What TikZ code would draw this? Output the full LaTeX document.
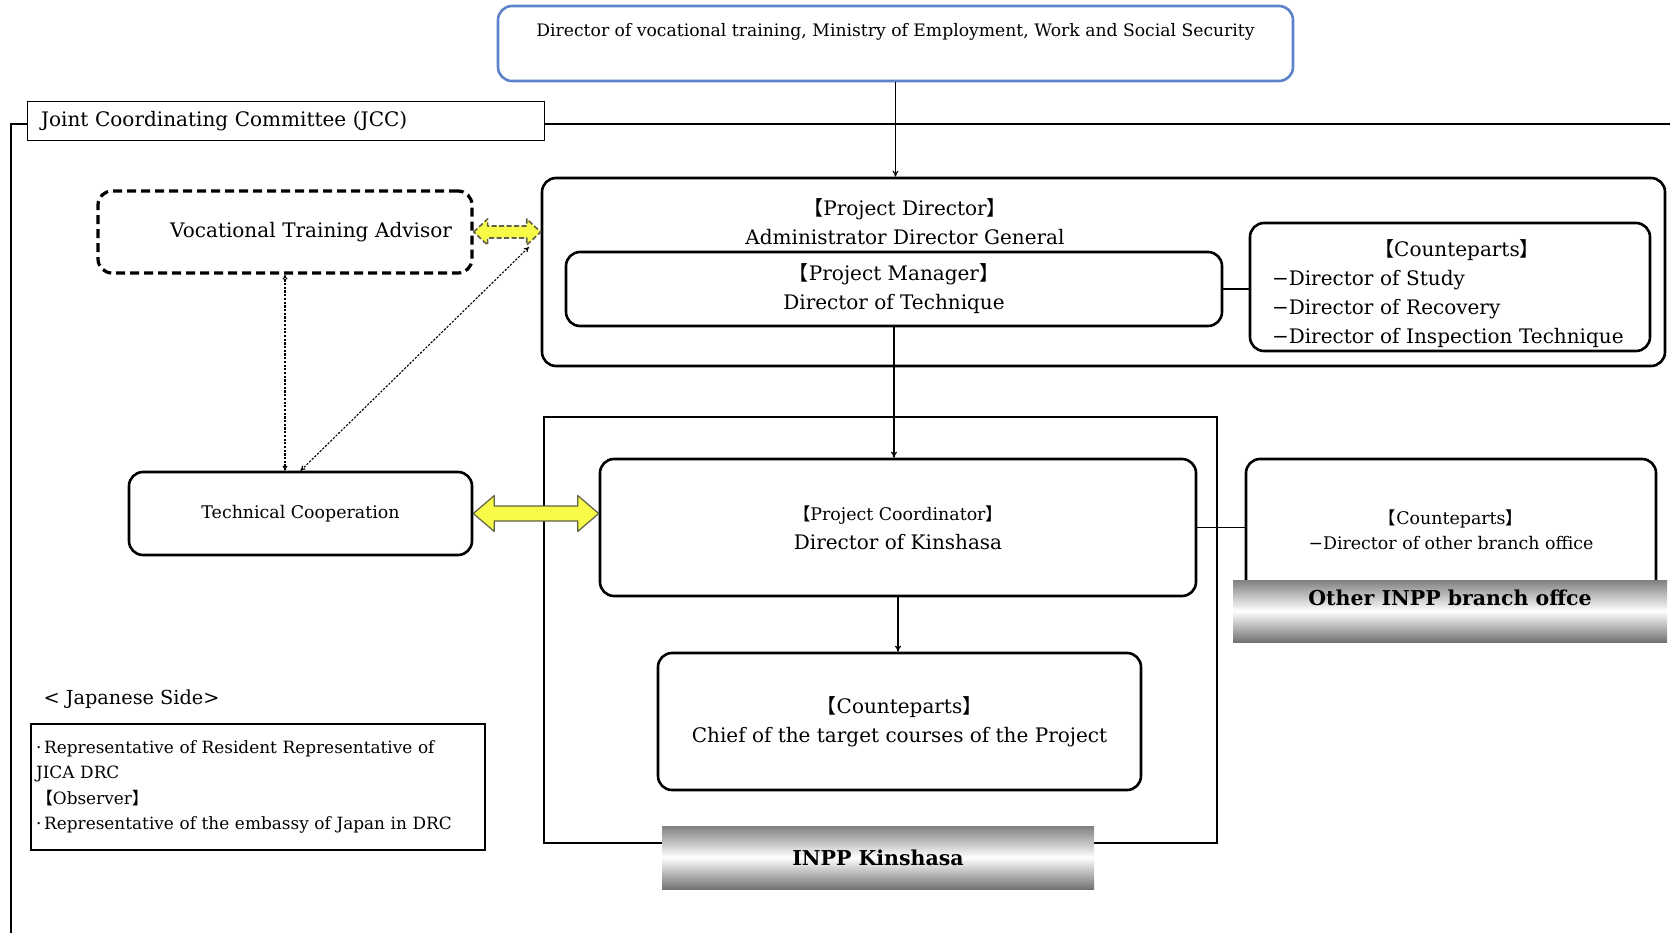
\documentclass[tikz,border=0pt]{standalone}
\usepackage{fontspec}
\setmainfont{DejaVu Serif}
\newfontfamily\cjk{Noto Sans CJK JP}
\usetikzlibrary{positioning,calc,arrows.meta}
\definecolor{orgblue}{RGB}{92,130,200}
\definecolor{orgyellow}{RGB}{248,250,72}
\definecolor{orgedge}{RGB}{95,95,75}
\newcommand{\lbr}{{\cjk 【}}
\newcommand{\rbr}{{\cjk 】}}
\newcommand{\bigtxt}{\fontsize{20}{29}\selectfont}
\newcommand{\midtxt}{\fontsize{17.4}{25}\selectfont}
\newcommand{\smalltxt}{\fontsize{16.9}{25.6}\selectfont}
\tikzset{
  orgbox/.style={draw=black,line width=2.6pt,rounded corners=14pt,fill=white,inner sep=0pt,align=center,font=\bigtxt},
  dashbox/.style={orgbox,dash pattern=on 9pt off 5pt,line width=3.2pt},
  banner/.style={inner sep=0pt,top color=black!50,bottom color=black!55,middle color=white,font=\fontsize{20.5}{24}\selectfont\bfseries},
  frameline/.style={draw=black,line width=1.2pt},
  conn/.style={line width=1.2pt,-{To[length=6pt,width=6pt]}},
  dotconn/.style={line width=1.1pt,dash pattern=on 2.2pt off 1.5pt,{To[length=5pt,width=5pt]}-{To[length=5pt,width=5pt]}},
  yarrow/.style={fill=orgyellow,draw=orgedge,line width=1.2pt,line join=round}
}
\begin{document}
\begin{tikzpicture}[x=1pt,y=-1pt]
  \useasboundingbox (0,0) rectangle (1670,933);
  % ministry
  \node[orgbox,draw=orgblue,minimum width=795pt,minimum height=75pt] (mol) at (895.5,43.5) {};
  \node[font=\fontsize{17.2}{20}\selectfont] (moltxt) at (895.5,32) {Director of vocational training, Ministry of Employment, Work and Social Security};
  % committee frame
  \node[frameline,anchor=west,minimum height=39pt,text width=490pt,inner xsep=13.5pt,align=left,font=\bigtxt] (jcc) at (27,121) {Joint Coordinating Committee (JCC)};
  \draw[frameline] ([yshift=-3pt]jcc.west) -| (11,940);
  \draw[frameline] ([yshift=-3pt]jcc.east) -- ++(1140,0);
  % project director block
  \node[orgbox,minimum width=1123pt,minimum height=188pt] (pd) at (1103.5,272) {};
  \node[font=\bigtxt,align=center] (pdtxt) at (905,222) {\lbr Project Director\rbr\\Administrator Director General};
  \node[orgbox,minimum width=656pt,minimum height=74pt] (pm) at (894,289) {\lbr Project Manager\rbr\\Director of Technique};
  \node[orgbox,minimum width=400pt,minimum height=128pt] (cpa) at (1450,287) {};
  \node[text width=370pt,align=left,font=\bigtxt] (cpatxt) at (1457,294) {\makebox[\linewidth]{\lbr Counteparts\rbr}\\−Director of Study\\−Director of Recovery\\−Director of Inspection Technique};
  \draw[frameline] (pm.east) -- (pm.east -| cpa.west);
  % japanese side
  \node[dashbox,minimum width=374pt,minimum height=82pt,text width=334pt,inner xsep=20pt,align=right] (vta) at (285,232) {Vocational Training Advisor};
  \node[orgbox,minimum width=343pt,minimum height=83pt,font=\midtxt] (tc) at (300.5,513.5) {Technical Cooperation};
  % kinshasa
  \node[frameline,minimum width=673pt,minimum height=426pt] (kin) at (880.5,630) {};
  \node[orgbox,minimum width=596pt,minimum height=137pt] (pc) at (898,527.5) {{\midtxt\lbr Project Coordinator\rbr}\\Director of Kinshasa};
  \node[orgbox,minimum width=483pt,minimum height=137pt] (chief) at (899.5,721.5) {\lbr Counteparts\rbr\\Chief of the target courses of the Project};
  \node[banner,minimum width=432pt,minimum height=63pt] (bra) at (878,857.5) {INPP Kinshasa};
  % other branches
  \node[orgbox,minimum width=410pt,minimum height=141pt,font=\midtxt] (cpb) at (1451,529.5) {\lbr Counteparts\rbr\\−Director of other branch office};
  \node[banner,minimum width=434pt,minimum height=62pt,text depth=26pt] (brb) at (1450,611) {Other INPP branch offce};
  \draw[frameline] (pc.east) -- (pc.east -| cpb.west);
  % observers
  \node[anchor=west,font=\fontsize{19.3}{24}\selectfont] (jside) at (40,699) {< Japanese Side>};
  \node[draw,line width=1.5pt,minimum width=454pt,minimum height=126pt,text width=444pt,inner xsep=5pt,align=left,font=\smalltxt] (jbox) at (258,787) {·\,Representative of Resident Representative of\\JICA DRC\\\lbr Observer\rbr\\·\,Representative of the embassy of Japan in DRC};
  % connectors
  \draw[conn] (mol.south) -- (mol.south |- pd.north);
  \draw[conn] (pm.south) -- (pm.south |- pc.north);
  \draw[conn] (pc.south) -- (pc.south |- chief.north);
  \coordinate (diagend) at (529,247);
  \draw[dotconn] (vta.south) -- (vta.south |- tc.north);
  \draw[dotconn] (tc.north) -- (diagend);
  \draw[yarrow] (tc.east) -- ++(21,-18) -- ++(0,10.5) -- ($(tc.east -| pc.west)+(-21,-7.5)$) -- ++(0,-10.5) -- (tc.east -| pc.west)
    -- ++(-21,18) -- ++(0,-10.5) -- ($(tc.east)+(21,7.5)$) -- ++(0,10.5) -- cycle;
  \draw[yarrow,dash pattern=on 5pt off 2.5pt,line width=1.6pt] (vta.east) -- ++(14,-13) -- ++(0,7) -- ($(vta.east -| pd.west)+(-14,-6)$) -- ++(0,-7) -- (vta.east -| pd.west)
    -- ++(-14,13) -- ++(0,-7) -- ($(vta.east)+(14,6)$) -- ++(0,7) -- cycle;
\end{tikzpicture}
\end{document}
